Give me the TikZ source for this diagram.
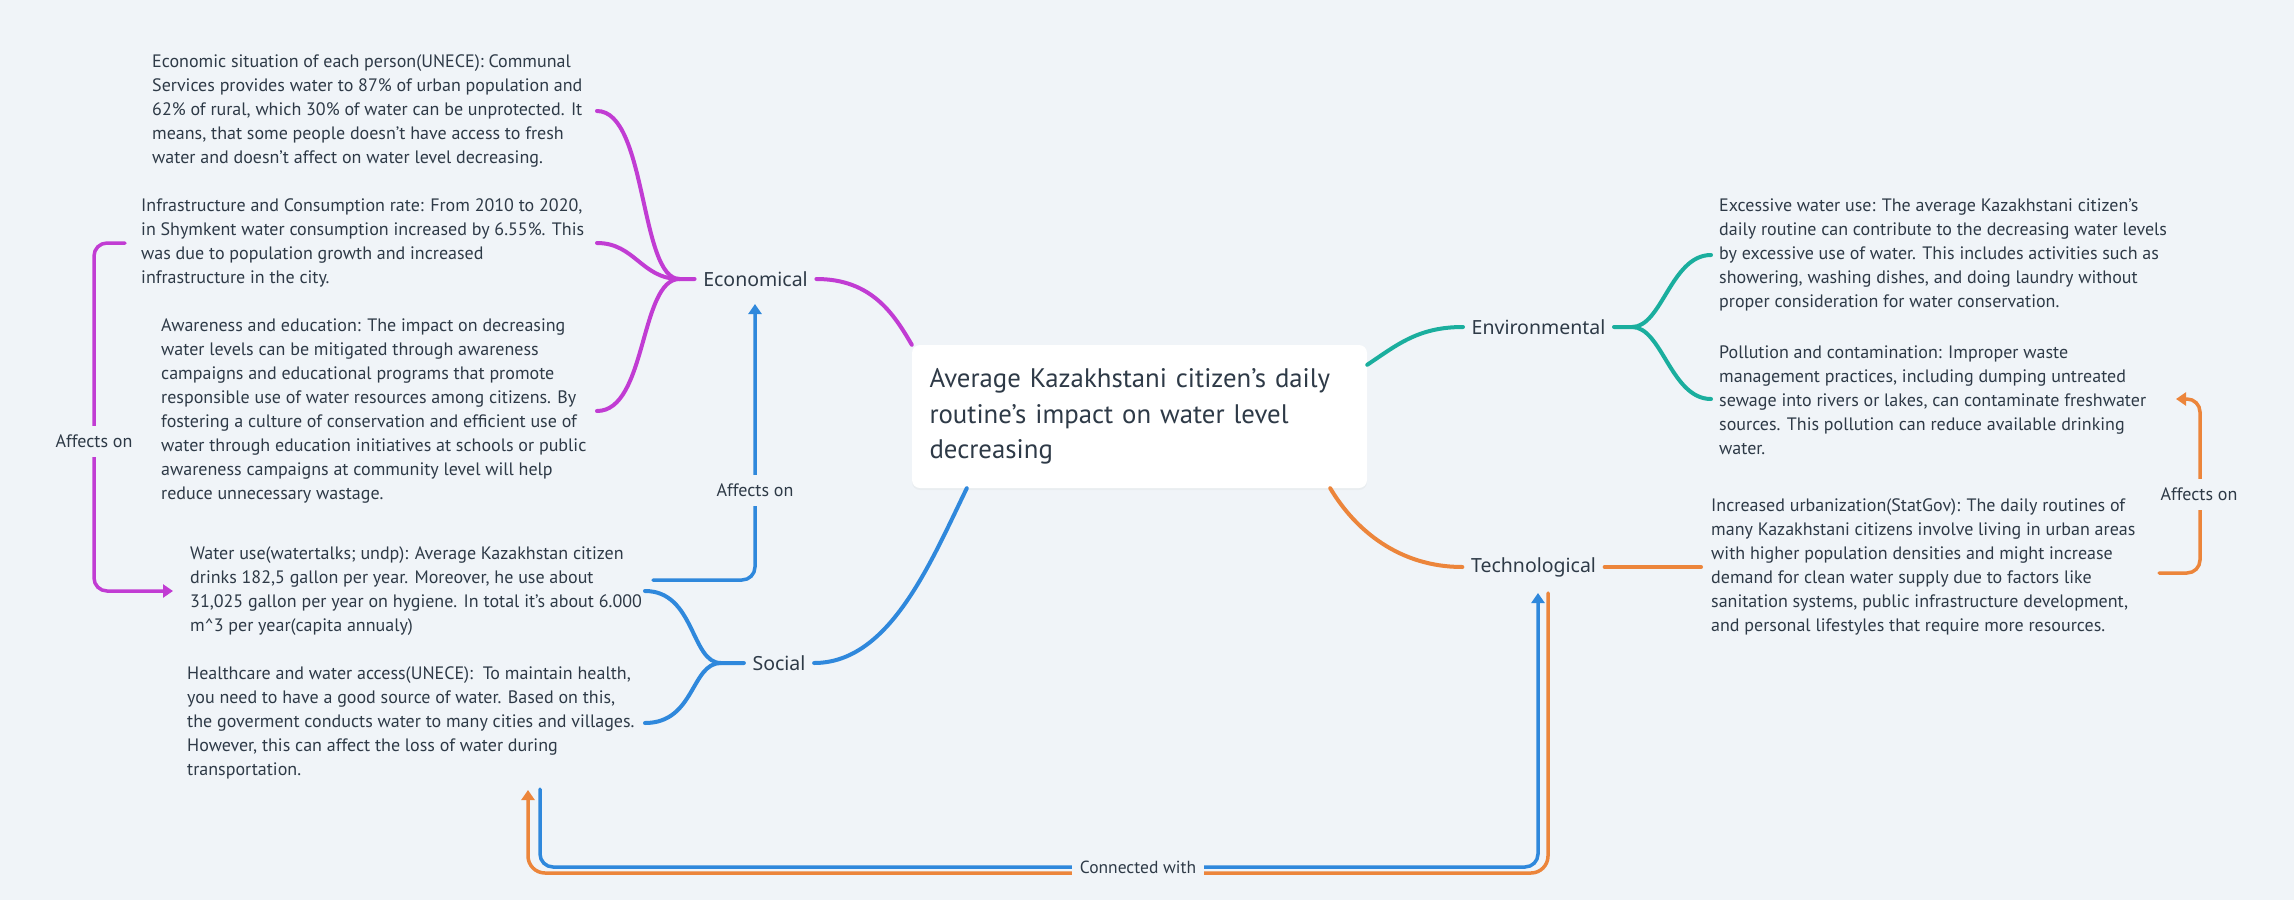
\documentclass[tikz,border=0pt]{standalone}
\usepackage{fontspec}
\setmainfont{PT Sans}
\newfontfamily\catfont{Noto Sans}
\usetikzlibrary{arrows.meta,calc,shadows}
\definecolor{bg}{HTML}{F0F4F8}
\definecolor{ink}{HTML}{2E3A47}
\definecolor{cpur}{HTML}{C13CD3}
\definecolor{cblu}{HTML}{2F88DC}
\definecolor{ctea}{HTML}{1AAE9E}
\definecolor{cora}{HTML}{EC853B}
\begin{document}
\begin{tikzpicture}[x=1pt,y=-1pt,
  body/.style={anchor=west,align=left,inner sep=0pt,text=ink,font=\fontsize{18}{24}\selectfont},
  cat/.style={inner xsep=8.5pt,inner ysep=4pt,text=ink,font=\catfont\fontsize{19.5}{24}\selectfont},
  branch/.style={line width=4pt,line cap=round},
  rel/.style={line width=3.5pt,line cap=round,rounded corners=13pt},
  tip/.style={-{Triangle[length=10pt,width=13pt]}},
  rlab/.style={fill=bg,inner xsep=3pt,inner ysep=9pt,text=ink,font=\fontsize{18}{20}\selectfont},
]
\fill[bg] (0,0) rectangle (2294,900);
\useasboundingbox (0,0) rectangle (2294,900);

% central topic
\node[fill=white,rounded corners=8pt,minimum width=455pt,minimum height=143pt,
  text width=420pt,inner xsep=17.5pt,align=left,text=ink,
  font=\fontsize{26.8}{35.5}\selectfont,
  drop shadow={shadow xshift=0pt,shadow yshift=-2pt,opacity=0.06}] (root) at (1139.5,416.5)
  {Average Kazakhstani citizen's daily\\routine's impact on water level\\decreasing};

% categories
\node[cat] (eco) at (755.5,279) {Economical};
\node[cat] (soc) at (779,663) {Social};
\node[cat] (env) at (1538.5,327) {Environmental};
\node[cat] (tec) at (1533.5,567) {Technological};

% texts
\node[body] (t1) at (152,111) {Economic situation of each person(UNECE): Communal\\Services provides water to 87\% of urban population and\\62\% of rural, which 30\% of water can be unprotected. It\\means, that some people doesn't have access to fresh\\water and doesn't affect on water level decreasing.};
\node[body] (t2) at (141,243) {Infrastructure and Consumption rate: From 2010 to 2020,\\in Shymkent water consumption increased by 6.55\%. This\\was due to population growth and increased\\infrastructure in the city.};
\node[body] (t3) at (161,411) {Awareness and education: The impact on decreasing\\water levels can be mitigated through awareness\\campaigns and educational programs that promote\\responsible use of water resources among citizens. By\\fostering a culture of conservation and efficient use of\\water through education initiatives at schools or public\\awareness campaigns at community level will help\\reduce unnecessary wastage.};
\node[body] (t4) at (190,591) {Water use(watertalks; undp): Average Kazakhstan citizen\\drinks 182,5 gallon per year. Moreover, he use about\\31,025 gallon per year on hygiene. In total it's about 6.000\\m\textasciicircum 3 per year(capita annualy)};
\node[body] (t5) at (187,723) {Healthcare and water access(UNECE):~ To maintain health,\\you need to have a good source of water. Based on this,\\the goverment conducts water to many cities and villages.\\However, this can affect the loss of water during\\transportation.};
\node[body] (t6) at (1719,255) {Excessive water use: The average Kazakhstani citizen's\\daily routine can contribute to the decreasing water levels\\by excessive use of water. This includes activities such as\\showering, washing dishes, and doing laundry without\\proper consideration for water conservation.};
\node[body] (t7) at (1719,400) {Pollution and contamination: Improper waste\\management practices, including dumping untreated\\sewage into rivers or lakes, can contaminate freshwater\\sources. This pollution can reduce available drinking\\water.};
\node[body] (t8) at (1711,567) {Increased urbanization(StatGov): The daily routines of\\many Kazakhstani citizens involve living in urban areas\\with higher population densities and might increase\\demand for clean water supply due to factors like\\sanitation systems, public infrastructure development,\\and personal lifestyles that require more resources.};

% hub and end coordinates
\coordinate (ecoj) at ($(eco.west)+(-15,0)$);
\coordinate (socj) at ($(soc.west)+(-23,0)$);
\coordinate (envj) at ($(env.east)+(18,0)$);
\coordinate (b1) at (597,111);
\coordinate (b2) at (597,243);
\coordinate (b3) at (597,411);
\coordinate (s1) at (645,591);
\coordinate (s2) at (645,723);
\coordinate (e1) at (1711,255);
\coordinate (e2) at (1711,399);
\coordinate (tecr) at (1701,567);

% economical branches
\draw[branch,cpur] (b1) .. controls +(50,0) and +(-40,0) .. (ecoj) -- (eco.west);
\draw[branch,cpur] (b2) .. controls +(38,0) and +(-38,0) .. (ecoj);
\draw[branch,cpur] (b3) .. controls +(50,0) and +(-40,0) .. (ecoj);
\draw[branch,cpur] (eco.east) .. controls +(55,0) and +(-18,-31) .. (root.north west);

% social branches
\draw[branch,cblu] (s1) .. controls +(50,0) and +(-30,0) .. (socj) -- (soc.west);
\draw[branch,cblu] (s2) .. controls +(50,0) and +(-30,0) .. (socj);
\draw[branch,cblu] (soc.east) .. controls +(75,0) and +(-37,76) .. ($(root.south west)+(55,0)$);

% environmental branches
\draw[branch,ctea] ($(root.north east)+(0,20)$) .. controls +(30,-20) and +(-45,0) .. (env.west);
\draw[branch,ctea] (env.east) -- (envj) .. controls +(30,0) and +(-40,0) .. (e1);
\draw[branch,ctea] (envj) .. controls +(30,0) and +(-40,0) .. (e2);

% technological branches
\draw[branch,cora] ($(root.south east)+(-37,0)$) .. controls +(25,42) and +(-63,0) .. (tec.west);
\draw[branch,cora] (tec.east) -- (tecr);

% relation: Social text -> Economical
\coordinate (r1) at (653,580);
\coordinate (ecob) at (755,304);
\draw[rel,cblu,tip] (r1) -| (ecob);
\node[rlab] (l1) at (755,490) {Affects on};

% relation: Infrastructure -> Water use
\coordinate (p1) at (125,243);
\coordinate (p2) at (173,591);
\draw[rel,cpur,tip] (p1) -- (94,243) -- (94,591) -- (p2);
\node[rlab] (l2) at (94,441) {Affects on};

% relation: Increased urbanization -> Pollution
\coordinate (o1) at (2159,573);
\coordinate (o2) at (2176,399);
\draw[rel,cora,tip] (o1) -- (2200,573) -- (2200,399) -- (o2);
\node[rlab] (l3) at (2199,494) {Affects on};

% relation: Connected with
\coordinate (tecb1) at (1548,593);
\coordinate (soct) at (528,790);
\coordinate (socb) at (540,789);
\coordinate (tecb) at (1538,593);
\draw[rel,cora,tip,rounded corners=17pt] (tecb1) -- (1548,873) -- (528,873) -- (soct);
\draw[rel,cblu,tip] (socb) -- (540,867) -- (1538,867) -- (tecb);
\node[rlab,inner xsep=8pt,inner ysep=6pt,font=\fontsize{17.5}{19}\selectfont] (l4) at (1138,867) {Connected with};
\end{tikzpicture}
\end{document}
